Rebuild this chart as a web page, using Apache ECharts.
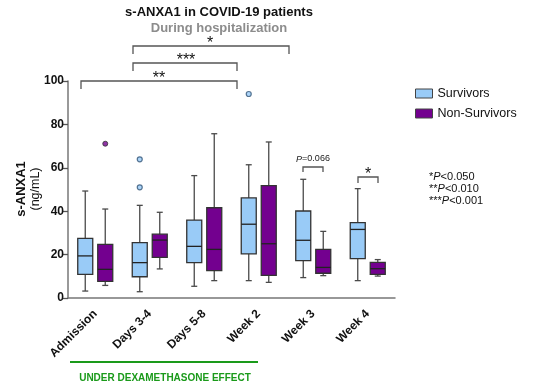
<!DOCTYPE html>
<html><head><meta charset="utf-8">
<script src="https://cdn.jsdelivr.net/npm/echarts@6/dist/echarts.min.js"></script>
<style>html,body{margin:0;padding:0;background:#fff}#c{width:550px;height:388px}</style>
</head><body><div id="c"></div>
<script>
const categories = ['Admission', 'Days 3-4', 'Days 5-8', 'Week 2', 'Week 3', 'Week 4'];
// [min, Q1, median, Q3, max]
const survivors = [
  [3.2, 10.9, 19.4, 27.5, 49.3],
  [2.9, 9.8, 16.3, 25.5, 42.7],
  [5.4, 16.3, 23.8, 35.9, 56.4],
  [8.0, 20.3, 34.0, 46.1, 61.4],
  [9.4, 17.2, 26.6, 40.1, 54.7],
  [8.0, 18.1, 31.6, 34.7, 50.4]
];
const nonSurvivors = [
  [5.8, 7.7, 13.2, 24.7, 41.0],
  [13.4, 18.7, 26.7, 29.4, 39.5],
  [8.0, 12.6, 22.4, 41.6, 75.7],
  [7.2, 10.4, 25.0, 51.8, 71.9],
  [10.3, 11.4, 14.1, 22.4, 30.7],
  [10.1, 10.9, 13.5, 16.4, 17.7]
];
// outliers: [category index, value]
const survivorOutliers = [[1, 63.9], [1, 51.0], [3, 94.0]];
const nonSurvivorOutliers = [[0, 71.1]];
const yTicks = [0, 20, 40, 60, 80, 100];

const chart = echarts.init(document.getElementById('c'), null, {renderer: 'canvas'});
const F = 'Liberation Sans, Arial, sans-serif';
const BLUE = '#99cbf7', PURPLE = '#73008f';
const starStyle = {fontFamily: F, fontSize: 16, fill: '#111', align: 'center', verticalAlign: 'middle'};
function bracket(x1, x2, y, leg) {
  return {type: 'polyline', shape: {points: [[x1, y + leg], [x1, y], [x2, y], [x2, y + leg]]},
    style: {stroke: '#555', lineWidth: 1.3, fill: null}};
}
function boxRenderer(offset, fill) {
  return function (params, api) {
    const i = api.value(0);
    const p = [1, 2, 3, 4, 5].map(k => api.coord([i, api.value(k)]));
    const x = p[0][0] + offset;
    const hw = 7.5, cw = 3;
    const wStyle = {stroke: '#4a4a4a', lineWidth: 1.3};
    return {type: 'group', children: [
      {type: 'line', shape: {x1: x, y1: p[0][1], x2: x, y2: p[1][1]}, style: wStyle},
      {type: 'line', shape: {x1: x, y1: p[3][1], x2: x, y2: p[4][1]}, style: wStyle},
      {type: 'line', shape: {x1: x - cw, y1: p[0][1], x2: x + cw, y2: p[0][1]}, style: wStyle},
      {type: 'line', shape: {x1: x - cw, y1: p[4][1], x2: x + cw, y2: p[4][1]}, style: wStyle},
      {type: 'rect', shape: {x: x - hw, y: p[3][1], width: 2 * hw, height: p[1][1] - p[3][1]},
       style: {fill: fill, stroke: '#333', lineWidth: 1.3}},
      {type: 'line', shape: {x1: x - hw, y1: p[2][1], x2: x + hw, y2: p[2][1]}, style: {stroke: '#222', lineWidth: 1.3}}
    ]};
  };
}
const titleStyle = (t, size, color) => ({text: t, fontFamily: F, fontSize: size, fontWeight: 'bold', fill: color, align: 'center', verticalAlign: 'middle'});
const pStyle = t => ({text: t, fontFamily: F, fontSize: 11, fill: '#111', verticalAlign: 'middle', rich: {i: {fontStyle: 'italic', fontFamily: F, fontSize: 11}}});
chart.setOption({
  animation: false,
  legend: {
    orient: 'vertical', left: 410, top: 82, itemWidth: 17, itemHeight: 9, itemGap: 7,
    textStyle: {fontFamily: F, fontSize: 12.5, color: '#111'},
    data: [
      {name: 'Survivors', icon: 'rect', itemStyle: {color: BLUE, borderColor: '#444', borderWidth: 1}},
      {name: 'Non-Survivors', icon: 'rect', itemStyle: {color: PURPLE, borderColor: '#444', borderWidth: 1}}
    ]
  },
  grid: {left: 68, top: 81, width: 327, height: 217},
  xAxis: {
    type: 'category', data: categories,
    axisLine: {lineStyle: {color: '#777', width: 1.5}},
    axisTick: {alignWithLabel: true, length: 6, lineStyle: {color: '#555', width: 1.3}},
    axisLabel: {rotate: 45, margin: 14, fontFamily: F, fontSize: 12, fontWeight: 'bold', color: '#111'}
  },
  yAxis: {
    type: 'value', min: 0, max: 100, interval: 20,
    axisLine: {show: true, lineStyle: {color: '#777', width: 1.5}},
    axisTick: {show: true, length: 6, lineStyle: {color: '#555', width: 1.3}},
    splitLine: {show: false},
    axisLabel: {margin: 4, fontFamily: F, fontSize: 12, fontWeight: 'bold', color: '#111',
      formatter: v => yTicks.includes(v) ? String(v) : ''}
  },
  series: [
    {name: 'Survivors', type: 'custom', data: survivors.map((d, i) => [i].concat(d)),
     encode: {x: 0, y: [1, 2, 3, 4, 5]}, itemStyle: {color: BLUE}, renderItem: boxRenderer(-10, BLUE)},
    {name: 'Non-Survivors', type: 'custom', data: nonSurvivors.map((d, i) => [i].concat(d)),
     encode: {x: 0, y: [1, 2, 3, 4, 5]}, itemStyle: {color: PURPLE}, renderItem: boxRenderer(10, PURPLE)},
    {name: 'Survivors', type: 'scatter', data: survivorOutliers, symbolSize: 5, symbolOffset: [-10, 0],
     itemStyle: {color: BLUE, borderColor: '#335577', borderWidth: 1.2}},
    {name: 'Non-Survivors', type: 'scatter', data: nonSurvivorOutliers, symbolSize: 5, symbolOffset: [10, 0],
     itemStyle: {color: PURPLE, borderColor: '#333', borderWidth: 1}}
  ],
  graphic: [
    {type: 'text', x: 219, y: 12.5, style: titleStyle('s-ANXA1 in COVID-19 patients', 13, '#111')},
    {type: 'text', x: 219, y: 28.5, style: titleStyle('During hospitalization', 13, '#8c8c8c')},
    {type: 'text', x: 21, y: 189, rotation: Math.PI / 2,
     style: {text: 's-ANXA1', fontFamily: F, fontSize: 13, fontWeight: 'bold', fill: '#111', align: 'center', verticalAlign: 'middle'}},
    {type: 'text', x: 36, y: 189, rotation: Math.PI / 2,
     style: {text: '(ng/mL)', fontFamily: F, fontSize: 12.5, fill: '#111', align: 'center', verticalAlign: 'middle'}},
    bracket(81, 237, 81, 8),
    {type: 'text', x: 159, y: 79, style: Object.assign({text: '**'}, starStyle)},
    bracket(133, 237, 63, 8),
    {type: 'text', x: 186, y: 61, style: Object.assign({text: '***'}, starStyle)},
    bracket(133, 289, 46, 8),
    {type: 'text', x: 210, y: 44, style: Object.assign({text: '*'}, starStyle)},
    bracket(303, 323, 167, 5),
    {type: 'text', x: 313, y: 159, style: {text: '{i|P}=0.066', fontFamily: F, fontSize: 9, fill: '#222', align: 'center', verticalAlign: 'middle',
      rich: {i: {fontStyle: 'italic', fontFamily: F, fontSize: 9}}}},
    bracket(358, 378, 177, 6),
    {type: 'text', x: 368, y: 175, style: Object.assign({text: '*'}, starStyle)},
    {type: 'text', x: 429, y: 177, style: pStyle('*{i|P}<0.050')},
    {type: 'text', x: 429, y: 189, style: pStyle('**{i|P}<0.010')},
    {type: 'text', x: 429, y: 201, style: pStyle('***{i|P}<0.001')},
    {type: 'line', shape: {x1: 70, y1: 362, x2: 258, y2: 362}, style: {stroke: '#1a9a1a', lineWidth: 2}},
    {type: 'text', x: 165, y: 378, style: {text: 'UNDER DEXAMETHASONE EFFECT', fontFamily: F, fontSize: 10, fontWeight: 'bold', fill: '#1a9a1a', align: 'center', verticalAlign: 'middle'}}
  ]
});
</script></body></html>
